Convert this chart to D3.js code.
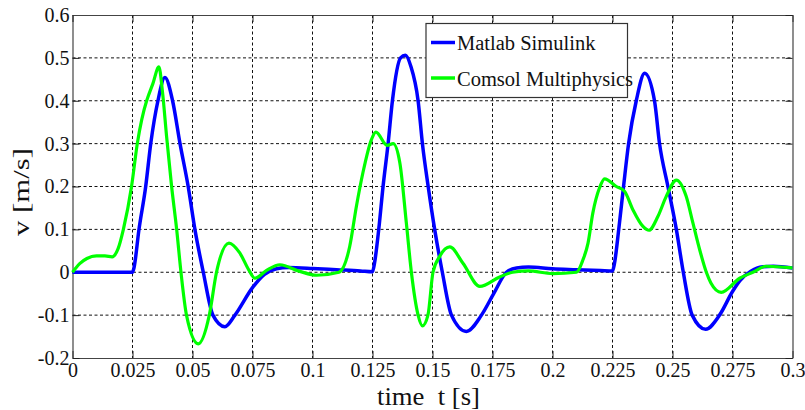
<!DOCTYPE html>
<html>
<head>
<meta charset="utf-8">
<script src="https://cdn.jsdelivr.net/npm/d3@7/dist/d3.min.js"></script>
</head>
<body style="margin:0;padding:0;background:#fff">
<script>
// ---- data ----
const seriesNames = ["Matlab Simulink", "Comsol Multiphysics"];
const xTickValues = [0, 0.025, 0.05, 0.075, 0.1, 0.125, 0.15, 0.175, 0.2, 0.225, 0.25, 0.275, 0.3];
const xTickLabels = ["0", "0.025", "0.05", "0.075", "0.1", "0.125", "0.15", "0.175", "0.2", "0.225", "0.25", "0.275", "0.3"];
const yTickValues = [-0.2, -0.1, 0, 0.1, 0.2, 0.3, 0.4, 0.5, 0.6];
const yTickLabels = ["-0.2", "-0.1", "0", "0.1", "0.2", "0.3", "0.4", "0.5", "0.6"];

const matlabT = [0, 0.025, 0.0256, 0.0277, 0.0305, 0.0326, 0.0356, 0.0385, 0.0417, 0.0448, 0.0482, 0.051, 0.0545, 0.0585, 0.0635, 0.0677, 0.075, 0.08, 0.085, 0.09, 0.1, 0.11, 0.12, 0.125,
  0.1258, 0.1276, 0.1294, 0.1315, 0.1333, 0.1367, 0.1387, 0.141, 0.144, 0.1458, 0.1482, 0.1509, 0.1541, 0.1579, 0.1641, 0.1704, 0.1755, 0.1808, 0.185, 0.19, 0.2, 0.21, 0.22, 0.225,
  0.2258, 0.2276, 0.2296, 0.2317, 0.2349, 0.2384, 0.2425, 0.2446, 0.2481, 0.2516, 0.2545, 0.2582, 0.2638, 0.2696, 0.275, 0.278, 0.2825, 0.2876, 0.292, 0.3];
const matlabV = [0, 0, 0.01, 0.1, 0.2, 0.3, 0.4, 0.454, 0.4, 0.3, 0.2, 0.1, 0, -0.1, -0.127, -0.1, -0.036, -0.005, 0.008, 0.011, 0.009, 0.006, 0.003, 0.001,
  0.02, 0.1, 0.2, 0.3, 0.4, 0.5, 0.506, 0.48, 0.4, 0.3, 0.2, 0.1, 0, -0.1, -0.138, -0.1, -0.05, 0, 0.01, 0.012, 0.008, 0.006, 0.004, 0.003,
  0.02, 0.1, 0.2, 0.3, 0.4, 0.464, 0.4, 0.3, 0.2, 0.1, 0, -0.1, -0.133, -0.1, -0.045, -0.02, 0.002, 0.013, 0.014, 0.01];

const comsolT = [0, 0.003, 0.006, 0.01, 0.0135, 0.0165, 0.019, 0.0212, 0.0246, 0.027, 0.0309, 0.0315, 0.0335, 0.036, 0.0375, 0.0392, 0.0413, 0.0434, 0.0452, 0.0475, 0.0524, 0.057, 0.06, 0.0652, 0.0697, 0.0735, 0.076, 0.081, 0.0864, 0.0947,
  0.1017, 0.111, 0.1155, 0.1183, 0.121, 0.1246, 0.1264, 0.1311, 0.1336, 0.1364, 0.1391, 0.1412, 0.144, 0.1458, 0.1481, 0.1502, 0.153, 0.1572, 0.1627, 0.1697, 0.178, 0.1834, 0.19, 0.2, 0.21,
  0.2127, 0.2148, 0.2168, 0.2196, 0.2217, 0.2266, 0.23, 0.2335, 0.2377, 0.2402, 0.2439, 0.2474, 0.2516, 0.2557, 0.2585, 0.2613, 0.2641, 0.266, 0.2703, 0.278, 0.2835, 0.289, 0.3];
const comsolV = [0, 0.02, 0.032, 0.038, 0.038, 0.036, 0.055, 0.1, 0.2, 0.3, 0.4, 0.41, 0.44, 0.479, 0.42, 0.317, 0.2, 0.1, 0, -0.1, -0.167, -0.1, 0, 0.068, 0.045, 0.005, -0.014, 0.005, 0.0175, 0.002,
  -0.007, 0, 0.06, 0.154, 0.232, 0.31, 0.327, 0.296, 0.3, 0.255, 0.115, 0, -0.1, -0.125, -0.1, 0, 0.037, 0.059, 0.021, -0.033, -0.011, 0, 0.003, -0.003, 0,
  0.029, 0.068, 0.138, 0.197, 0.218, 0.2, 0.189, 0.146, 0.107, 0.098, 0.13, 0.177, 0.215, 0.177, 0.115, 0.053, 0, -0.025, -0.047, -0.014, 0, 0.014, 0.01];

// ---- layout ----
const W = 805, H = 410;
const FONT = "Liberation Serif";
const plot = { left: 72.5, right: 792.5, top: 15, bottom: 358 };

const svg = d3.select("body").append("svg").attr("width", W).attr("height", H)
  .attr("font-family", FONT).style("display", "block");

const x = d3.scaleLinear().domain([0, 0.3]).range([plot.left, plot.right]);
const y = d3.scaleLinear().domain([-0.2, 0.6]).range([plot.bottom, plot.top]);

// grid
const grid = svg.append("g");
grid.selectAll(".gx").data(xTickValues.slice(1, -1)).enter().append("line")
  .attr("x1", d => x(d)).attr("x2", d => x(d))
  .attr("y1", plot.top).attr("y2", plot.bottom)
  .attr("stroke", "#111").attr("stroke-width", 1).attr("stroke-dasharray", "3,2.5");
grid.selectAll(".gy").data(yTickValues.slice(1, -1)).enter().append("line")
  .attr("y1", d => y(d)).attr("y2", d => y(d))
  .attr("x1", plot.left).attr("x2", plot.right)
  .attr("stroke", "#111").attr("stroke-width", 1).attr("stroke-dasharray", "3,2.5");

// axes
const xAxis = d3.axisBottom(x).tickValues(xTickValues)
  .tickFormat((d, i) => xTickLabels[i]).tickSizeInner(-7).tickSizeOuter(0).tickPadding(5);
const gx = svg.append("g").attr("transform", `translate(0,${plot.bottom})`).call(xAxis);
const yAxis = d3.axisLeft(y).tickValues(yTickValues)
  .tickFormat((d, i) => yTickLabels[i]).tickSizeInner(-7).tickSizeOuter(0).tickPadding(3);
const gy = svg.append("g").attr("transform", `translate(${plot.left},0)`).call(yAxis);
const gxTop = svg.append("g").attr("transform", `translate(0,${plot.top})`)
  .call(d3.axisTop(x).tickValues(xTickValues).tickFormat("").tickSizeInner(-7).tickSizeOuter(0));
const gyRight = svg.append("g").attr("transform", `translate(${plot.right},0)`)
  .call(d3.axisRight(y).tickValues(yTickValues).tickFormat("").tickSizeInner(-7).tickSizeOuter(0));

[gx, gy, gxTop, gyRight].forEach(g => {
  g.attr("font-family", FONT).attr("font-size", 20);
  g.select(".domain").attr("stroke", "#444").attr("stroke-width", 1.2);
  g.selectAll(".tick line").attr("stroke", "#222");
  g.selectAll(".tick text").attr("fill", "#111").attr("font-family", FONT).attr("font-size", 20);
});
gx.selectAll(".tick text").attr("dy", "0.71em");

// lines
const lineGen = d3.line().x(d => x(d[0])).y(d => y(d[1])).curve(d3.curveMonotoneX);
const matlab = matlabT.map((t, i) => [t, matlabV[i]]);
const comsol = comsolT.map((t, i) => [t, comsolV[i]]);

svg.append("path").datum(matlab).attr("d", lineGen)
  .attr("fill", "none").attr("stroke", "#0000ff").attr("stroke-width", 3.5).attr("stroke-linejoin", "round");
svg.append("path").datum(comsol).attr("d", lineGen)
  .attr("fill", "none").attr("stroke", "#00ff00").attr("stroke-width", 3.2).attr("stroke-linejoin", "round");

// legend
const lg = svg.append("g");
lg.append("rect").attr("x", 426).attr("y", 23.5).attr("width", 201.5).attr("height", 74)
  .attr("fill", "#fff").attr("stroke", "#333").attr("stroke-width", 1.2);
const colors = ["#0000ff", "#00ff00"];
const ly = [42.5, 78];
seriesNames.forEach((name, i) => {
  lg.append("line").attr("x1", 431).attr("x2", 455).attr("y1", ly[i]).attr("y2", ly[i])
    .attr("stroke", colors[i]).attr("stroke-width", 3.5);
  lg.append("text").attr("x", 457).attr("y", ly[i] + 7.5)
    .attr("font-family", FONT).attr("font-size", 20.5).attr("fill", "#111").text(name);
});

// axis labels
svg.append("text").attr("transform", "translate(28.5,192) rotate(-90)")
  .attr("text-anchor", "middle").attr("font-family", FONT).attr("font-size", 24)
  .attr("textLength", 88).attr("lengthAdjust", "spacingAndGlyphs")
  .attr("fill", "#111").text("v [m/s]");
svg.append("text").attr("x", 428.5).attr("y", 404.5).attr("text-anchor", "middle")
  .attr("xml:space", "preserve").style("white-space", "pre")
  .attr("font-family", FONT).attr("font-size", 25).attr("textLength", 103).attr("lengthAdjust", "spacingAndGlyphs")
  .attr("fill", "#111").text("time  t [s]");
</script>
</body>
</html>
